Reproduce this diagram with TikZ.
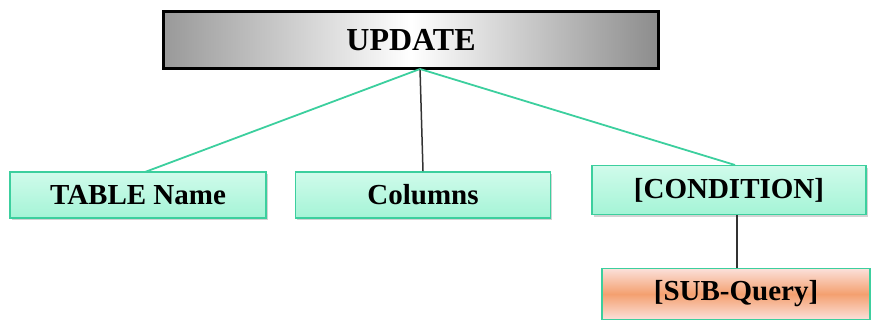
\documentclass[tikz,border=0pt]{standalone}
\usepackage{fontspec}
\setmainfont{Liberation Serif}
\usetikzlibrary{shadows}
\definecolor{mint}{HTML}{A4F4D6}
\definecolor{mintlight}{HTML}{D0FBEB}
\definecolor{tealedge}{HTML}{3CCF9E}
\definecolor{orangemid}{HTML}{F4A070}
\definecolor{pinklight}{HTML}{FBE0DA}
\begin{document}
\begin{tikzpicture}[x=1pt,y=-1pt,
  leaf/.style={draw=tealedge, line width=1.8pt, top color=mintlight, bottom color=mint,
    drop shadow={shadow xshift=1.5pt, shadow yshift=-2pt, opacity=0.35},
    font=\fontsize{29}{32}\bfseries, inner sep=0pt},
  headbox/.style={draw=black, line width=3pt, left color=gray!80, right color=gray!90,
    middle color=white, font=\fontsize{32}{36}\bfseries, inner sep=0pt},
  subbox/.style={draw=tealedge, line width=1.8pt, top color=pinklight, bottom color=pinklight,
    middle color=orangemid, font=\fontsize{29}{32}\bfseries, inner sep=0pt},
  greenlink/.style={draw=tealedge, line width=1.8pt},
  blacklink/.style={draw=black!80, line width=1.5pt}]
\useasboundingbox (0,0) rectangle (874,321);

\node[headbox, minimum width=495pt, minimum height=57pt] (upd) at (411,40) {UPDATE};

\node[leaf, minimum width=256pt, minimum height=46pt] (tab) at (138,195) {TABLE Name};
\node[leaf, minimum width=255pt, minimum height=46pt] (col) at (423,195) {Columns};
\node[leaf, minimum width=274pt, minimum height=49pt] (cond) at (729,190) {[CONDITION]};
\node[subbox, minimum width=268pt, minimum height=51pt] (sub) at (736,294) {[SUB-Query]};

\coordinate (hub) at (420,69);
\draw[greenlink] (hub) -- (145,172);
\draw[blacklink] (hub) -- (col.north);
\draw[greenlink] (hub) -- (735,165);
\draw[blacklink] (737,215) -- (sub.north -| 737,215);
\end{tikzpicture}
\end{document}
